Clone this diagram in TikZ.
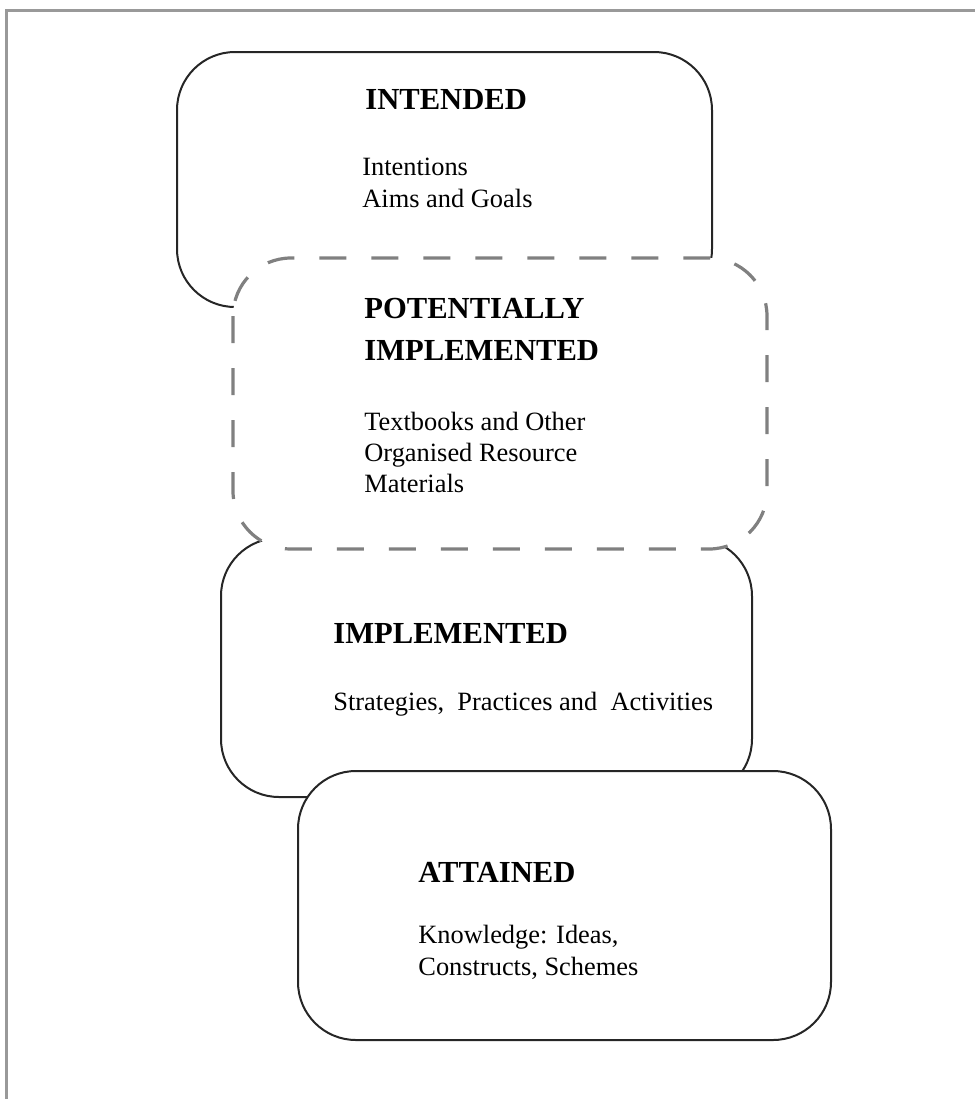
\documentclass[tikz,border=0pt]{standalone}
\usepackage{fontspec}
\setmainfont{Liberation Serif}

\begin{document}
\begin{tikzpicture}[x=0.5pt,y=-0.5pt,
    solidbox/.style={draw=black!85, line width=1pt, rounded corners=29pt, fill=white},
    dashbox/.style={draw=black!50, line width=1.6pt, dash pattern=on 13.5pt off 12.5pt, rounded corners=29pt, fill=white},
    head/.style={anchor=base west, inner sep=0pt, font=\fontsize{15.3pt}{18pt}\selectfont\bfseries},
    body/.style={anchor=base west, inner sep=0pt, font=\fontsize{13.2pt}{16pt}\selectfont}]
    \useasboundingbox (0,0) rectangle (975,1099);
    % frame, top and left edge only
    \draw[black!40, line width=1.5pt] (6,1099) -- (6,10) -- (975,10);
    % boxes, back to front
    \draw[solidbox] (177,52) rectangle (712,307);
    \draw[solidbox] (221,538) rectangle (752,797);
    \draw[dashbox] (233,258) rectangle (767,549);
    \draw[solidbox] (298,771) rectangle (831,1040);
    % intended
    \node[head] (intHead) at (365,109) {INTENDED};
    \node[body] (intLine1) at (362,175) {Intentions};
    \node[body] (intLine2) at (362,207) {Aims and Goals};
    % potentially implemented
    \node[head] (potHead1) at (364,318) {POTENTIALLY};
    \node[head] (potHead2) at (364,360) {IMPLEMENTED};
    \node[body] (potLine1) at (364,430) {Textbooks and Other};
    \node[body] (potLine2) at (364,461) {Organised Resource};
    \node[body] (potLine3) at (364,492) {Materials};
    % implemented
    \node[head] (impHead) at (333,643) {IMPLEMENTED};
    \node[body] (impLine1) at (333,710) {Strategies,\ \ Practices and\ \ Activities};
    % attained
    \node[head] (attHead) at (418,882) {ATTAINED};
    \node[body] (attLine1) at (418,943) {Knowledge: Ideas,};
    \node[body] (attLine2) at (418,975) {Constructs, Schemes};
\end{tikzpicture}
\end{document}
